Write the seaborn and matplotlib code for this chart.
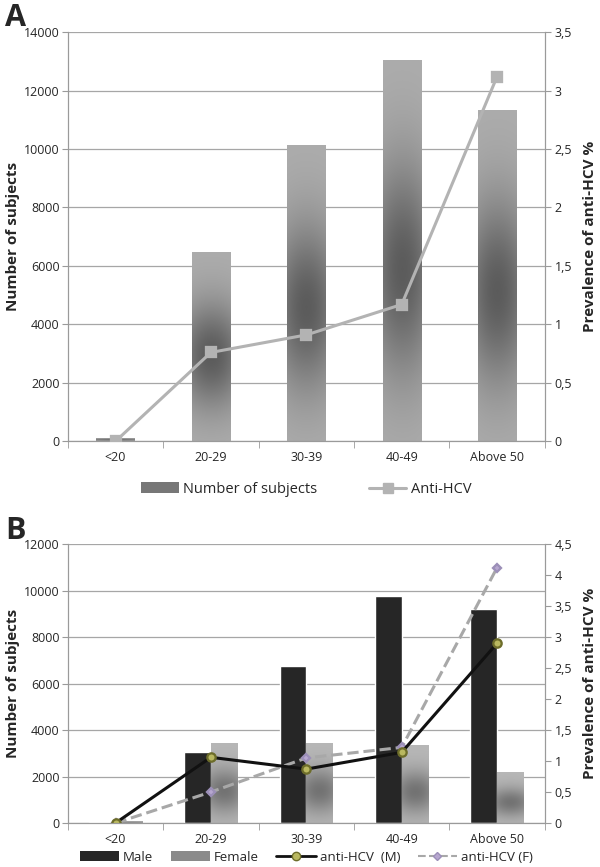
import numpy as np
import pandas as pd
import matplotlib
matplotlib.use("Agg")
import matplotlib.pyplot as plt
import seaborn as sns
from matplotlib.ticker import FuncFormatter, MultipleLocator
from matplotlib.patches import Patch
from matplotlib.lines import Line2D

age_groups = ["<20", "20-29", "30-39", "40-49", "Above 50"]
subjects = [100, 6480, 10150, 13050, 11350]
anti_hcv = [0.0, 0.76, 0.91, 1.17, 3.12]

male = [50, 3050, 6750, 9750, 9200]
female = [80, 3450, 3450, 3350, 2200]
anti_hcv_m = [0.0, 1.06, 0.87, 1.14, 2.90]
anti_hcv_f = [0.0, 0.50, 1.05, 1.22, 4.12]

sns.set_style("white")
plt.rcParams["font.family"] = ["Open Sans", "DejaVu Sans"]
plt.rcParams["font.size"] = 9

comma = FuncFormatter(lambda v, p: f"{v:g}".replace(".", ","))


def gradient_bars(ax, patches, light, dark, center=0.5):
    # paint each bar with a grey gradient clipped to the bar shape
    yy = np.linspace(0, 1, 80)[:, None]
    xx = np.linspace(-1, 1, 20)[None, :]
    shade = np.exp(-((yy - center) / 0.28) ** 2) * (1 - 0.25 * xx ** 2)
    img = np.empty(shade.shape + (3,))
    for i in range(3):
        img[..., i] = light[i] + (dark[i] - light[i]) * shade
    for p in patches:
        x0, y0 = p.get_x(), p.get_y()
        w, h = p.get_width(), p.get_height()
        im = ax.imshow(img, extent=[x0, x0 + w, y0, y0 + h], origin="lower",
                       aspect="auto", zorder=2, interpolation="bicubic")
        im.set_clip_path(p)
        p.set_facecolor("none")
        p.set_edgecolor("none")


def style_axes(ax, ax2, ymax, ystep, rmax):
    ax.set_ylim(0, ymax)
    ax.yaxis.set_major_locator(MultipleLocator(ystep))
    ax.set_xlim(-0.5, 4.5)
    ax.grid(axis="y", color="#a6a6a6", linewidth=0.9)
    ax.set_axisbelow(True)
    ax.spines["top"].set_visible(False)
    ax2.spines["top"].set_visible(False)
    for s in ["left", "bottom", "right"]:
        ax2.spines[s].set_color("#9a9a9a")
        ax.spines[s].set_color("#9a9a9a")
    ax.set_xticks(range(5))
    ax.set_xticklabels(age_groups)
    ax.set_xticks(np.arange(-0.5, 5, 1), minor=True)
    ax.tick_params(axis="x", which="major", length=0, pad=7)
    ax.tick_params(axis="x", which="minor", length=5, color="#9a9a9a", bottom=True)
    ax.tick_params(axis="y", length=4, color="#9a9a9a", left=True, pad=2)
    ax.set_ylabel("Number of subjects", fontsize=11, fontweight="bold", labelpad=3)
    ax.set_xlabel("")
    ax2.set_ylim(0, rmax)
    ax2.yaxis.set_major_locator(MultipleLocator(0.5))
    ax2.yaxis.set_major_formatter(comma)
    ax2.tick_params(axis="y", length=4, color="#9a9a9a", right=True, pad=3)
    ax2.set_ylabel("Prevalence of anti-HCV %", fontsize=11, fontweight="bold", labelpad=8)
    ax2.set_xlabel("")


fig = plt.figure(figsize=(6, 8.67), dpi=100)

# panel A
axA = fig.add_axes([0.113, 0.491, 0.795, 0.472])
sns.barplot(x=age_groups, y=subjects, ax=axA, width=0.4, color="#888888")
axA2 = axA.twinx()
gradient_bars(axA, list(axA.patches), (0.68, 0.68, 0.68), (0.36, 0.36, 0.36), center=0.45)
sns.pointplot(x=age_groups, y=anti_hcv, ax=axA2, color="#b3b3b3", markers="s",
              markersize=7, linewidth=2.2, errorbar=None)
for ln in axA2.lines:
    ln.set_zorder(5)
style_axes(axA, axA2, 14000, 2000, 3.5)
handlesA = [Patch(facecolor="#777777", edgecolor="none"),
            Line2D([], [], color="#b3b3b3", marker="s", markersize=7, linewidth=2.2)]
axA.legend(handlesA, ["Number of subjects", "Anti-HCV"], loc="center",
           bbox_to_anchor=(0.5, -0.117), ncol=2, frameon=False, fontsize=10.5,
           handlelength=2.6, handletextpad=0.3, columnspacing=3.5)
fig.text(0.008, 0.997, "A", fontsize=22, fontweight="bold", va="top", ha="left")

# panel B
axB = fig.add_axes([0.113, 0.0507, 0.795, 0.3218])
dfB = pd.DataFrame({
    "age": age_groups * 2,
    "n": male + female,
    "sex": ["Male"] * 5 + ["Female"] * 5,
})
sns.barplot(data=dfB, x="age", y="n", hue="sex", ax=axB, width=0.56,
            palette={"Male": "#262626", "Female": "#9a9a9a"}, legend=False)
axB2 = axB.twinx()
fem_patches = [p for p in axB.patches if np.allclose(p.get_facecolor()[:3], (0x9a / 255,) * 3)]
gradient_bars(axB, fem_patches, (0.72, 0.72, 0.72), (0.45, 0.45, 0.45), center=0.4)
sns.pointplot(x=age_groups, y=anti_hcv_f, ax=axB2, color="#a8a8a8", markers="D",
              markersize=4, linewidth=2.2, linestyles="--", errorbar=None)
sns.pointplot(x=age_groups, y=anti_hcv_m, ax=axB2, color="#111111", markers="o",
              markersize=6, linewidth=2.2, errorbar=None)
axB2.lines[0].set_markerfacecolor("#b7a7d0")
axB2.lines[0].set_markeredgecolor("#9c8fb8")
axB2.lines[1].set_markerfacecolor("#b9b860")
axB2.lines[1].set_markeredgecolor("#6d6d2a")
style_axes(axB, axB2, 12000, 2000, 4.5)
handlesB = [Patch(facecolor="#262626", edgecolor="none"),
            Patch(facecolor="#8a8a8a", edgecolor="none"),
            Line2D([], [], color="#111111", marker="o", markersize=6, linewidth=2,
                   markerfacecolor="#b9b860", markeredgecolor="#6d6d2a"),
            Line2D([], [], color="#a8a8a8", marker="D", markersize=4, linewidth=1.5,
                   linestyle="--", markerfacecolor="#b7a7d0", markeredgecolor="#9c8fb8")]
axB.legend(handlesB, ["Male", "Female", "anti-HCV  (M)", "anti-HCV (F)"], loc="center",
           bbox_to_anchor=(0.5, -0.122), ncol=4, frameon=False, fontsize=9.5,
           handlelength=3, handletextpad=0.3, columnspacing=1.3)
fig.text(0.008, 0.405, "B", fontsize=22, fontweight="bold", va="top", ha="left")

fig.savefig("out.png", dpi=100)
